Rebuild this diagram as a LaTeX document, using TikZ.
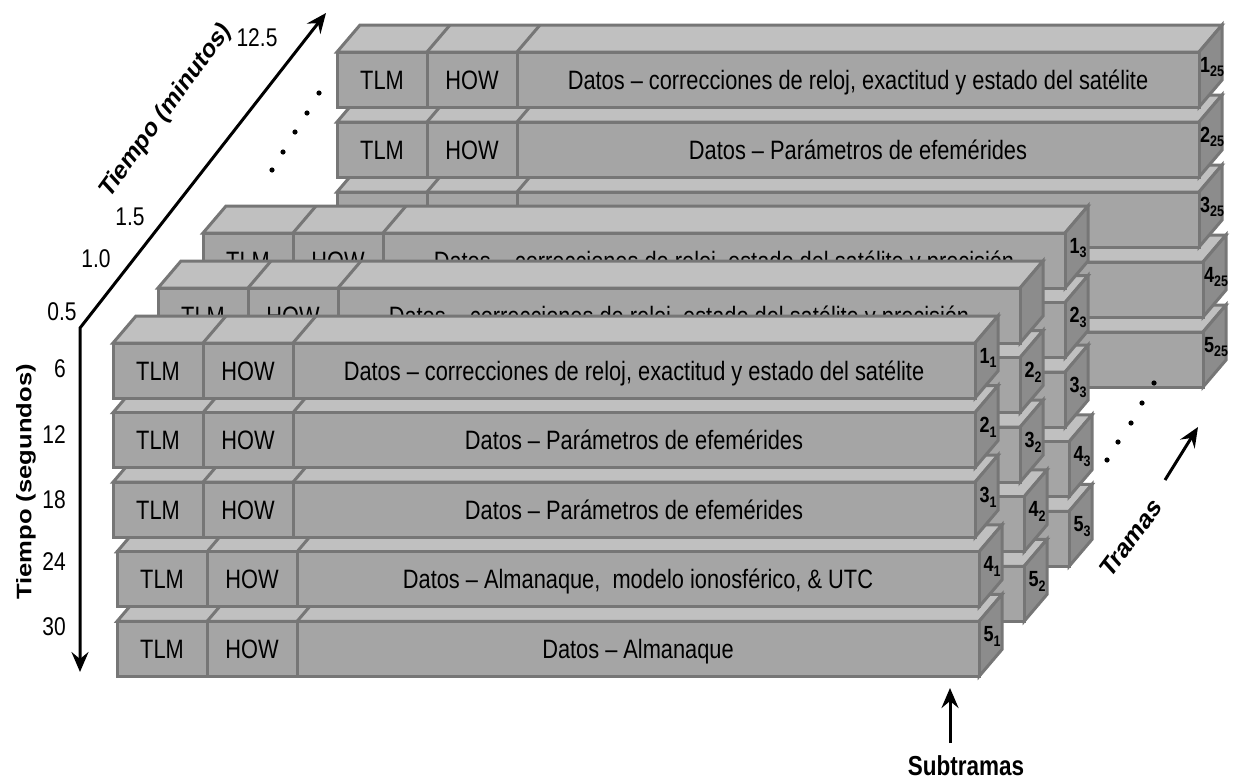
\documentclass[tikz,border=0pt]{standalone}
\usepackage{fontspec}
\setmainfont{Liberation Sans}
\usetikzlibrary{arrows.meta}

\definecolor{facefront}{RGB}{165,165,165}
\definecolor{facetop}{RGB}{192,192,192}
\definecolor{faceside}{RGB}{140,140,140}
\definecolor{faceedge}{RGB}{118,118,118}

\tikzset{
  face/.style={draw=faceedge, line width=3pt},
  celltext/.style={font=\fontsize{21.8}{21.8}\selectfont, anchor=base, inner sep=0pt, yscale=1.22},
  sublabel/.style={font=\bfseries\fontsize{18}{18}\selectfont, anchor=base, inner sep=0pt, yscale=1.22},
  tick/.style={font=\fontsize{21}{21}\selectfont, inner sep=0pt, yscale=1.22},
  axistitle/.style={font=\bfseries\fontsize{21}{21}\selectfont, inner sep=0pt},
  axis/.style={line width=3pt},
  tip/.tip={Stealth[length=20pt,width=17pt,inset=7pt]},
  dot/.style={fill=black},
}

\newcommand\subfont{\fontsize{12.5}{12.5}\selectfont}

% One 3-D bar: name, x, y (top-left of the front face), data text, side number, subscript
\newcommand\gpsrow[6]{%
  \begin{scope}[shift={(#2,#3)}]
    \filldraw[face, fill=facetop] (0,0) -- (23,-27) -- (885,-27) -- (862,0) -- cycle;
    \draw[face] (90,0) -- (113,-27) (180,0) -- (203,-27);
    \filldraw[face, fill=faceside] (862,0) -- (885,-27) -- (885,28) -- (862,55) -- cycle;
    \filldraw[face, fill=facefront] (0,0) rectangle (90,55) (90,0) rectangle (180,55) (180,0) rectangle (862,55);
    \def\gpsdata{#4}%
    \ifx\gpsdata\empty\else
      \node[celltext] (#1-tlm) at (45,37) {TLM};
      \node[celltext] (#1-how) at (135,37) {HOW};
      \node[celltext] (#1-data) at (521,37) {#4};
    \fi
    \def\gpslab{#5}%
    \ifx\gpslab\empty\else
      \node[sublabel] (#1-num) at (875,20) {#5\raisebox{-4pt}{\subfont #6}};
    \fi
  \end{scope}}

\begin{document}
\begin{tikzpicture}[x=1pt, y=-1pt]
  \fill[white] (0,0) rectangle (1241,782);
  \useasboundingbox (0,0) rectangle (1241,782);

  % frame 25 (back)
  \gpsrow{f25r5}{341}{332}{}{5}{25}
  \gpsrow{f25r4}{341}{262}{}{4}{25}
  \gpsrow{f25r3}{337}{192}{}{3}{25}
  \gpsrow{f25r2}{337}{122}{Datos – Parámetros de efemérides}{2}{25}
  \gpsrow{f25r1}{337}{52}{Datos – correcciones de reloj, exactitud y estado del satélite}{1}{25}

  % frame 3
  \gpsrow{f3r5}{207}{511.4}{}{5}{3}
  \gpsrow{f3r4}{207}{441.8}{}{4}{3}
  \gpsrow{f3r3}{203}{372.2}{}{3}{3}
  \gpsrow{f3r2}{203}{302.6}{}{2}{3}
  \gpsrow{f3r1}{203}{233}{Datos – correcciones de reloj, estado del satélite y precisión}{1}{3}

  % frame 2
  \gpsrow{f2r5}{162}{566.4}{}{5}{2}
  \gpsrow{f2r4}{162}{496.8}{}{4}{2}
  \gpsrow{f2r3}{158}{427.2}{}{3}{2}
  \gpsrow{f2r2}{158}{357.6}{}{2}{2}
  \gpsrow{f2r1}{158}{288}{Datos – correcciones de reloj, estado del satélite y precisión}{}{}

  % frame 1 (front)
  \gpsrow{f1r5}{117}{621.4}{Datos – Almanaque}{5}{1}
  \gpsrow{f1r4}{117}{551.8}{Datos – Almanaque,\ \ modelo ionosférico, \& UTC}{4}{1}
  \gpsrow{f1r3}{113}{482.2}{Datos – Parámetros de efemérides}{3}{1}
  \gpsrow{f1r2}{113}{412.6}{Datos – Parámetros de efemérides}{2}{1}
  \gpsrow{f1r1}{113}{343}{Datos – correcciones de reloj, exactitud y estado del satélite}{1}{1}

  % time axes
  \coordinate (origin) at (80,328);
  \coordinate (segEnd) at (80,672);
  \coordinate (minEnd) at (326,13);
  \draw[axis, tip-tip] (segEnd) -- (origin) -- (minEnd);

  \node[tick, anchor=east] (t6)  at (66,369) {6};
  \node[tick, anchor=east] (t12) at (66,435) {12};
  \node[tick, anchor=east] (t18) at (66,500) {18};
  \node[tick, anchor=east] (t24) at (66,562) {24};
  \node[tick, anchor=east] (t30) at (66,627) {30};
  \node[tick] (m05)  at (62,312) {0.5};
  \node[tick] (m10)  at (96,259) {1.0};
  \node[tick] (m15)  at (130,217) {1.5};
  \node[tick] (m125) at (257,38) {12.5};

  \node[axistitle, yscale=1.22, rotate=90] (segTitle) at (26,482) {Tiempo (segundos)};
  \node[axistitle, font=\bfseries\fontsize{22}{22}\selectfont, yscale=1.22, rotate=48.4] (minTitle) at (166,111) {Tiempo (minutos)};

  % ellipsis along the minutes axis
  \foreach \px/\py in {272/170, 283/152, 295/132, 307/113, 319/93}
    \fill[dot] (\px,\py) circle (2.6);
  % ellipsis towards later frames
  \foreach \px/\py in {1107/460, 1118/442, 1131/423, 1142/403, 1154/383}
    \fill[dot] (\px,\py) circle (2.6);

  % frames arrow
  \coordinate (tramasTail) at (1165,480);
  \coordinate (tramasTip) at (1198,427);
  \draw[axis, -tip] (tramasTail) -- (tramasTip);
  \node[axistitle, font=\bfseries\fontsize{22.5}{22.5}\selectfont, yscale=1.22, rotate=47.8] (tramas) at (1131,538) {Tramas};

  % subframes arrow
  \coordinate (subTail) at (950,743);
  \coordinate (subTip) at (950,688);
  \draw[axis, -tip] (subTail) -- (subTip);
  \node[axistitle, font=\bfseries\fontsize{22.5}{22.5}\selectfont, yscale=1.22] (subtramas) at (966,766) {Subtramas};
\end{tikzpicture}
\end{document}
